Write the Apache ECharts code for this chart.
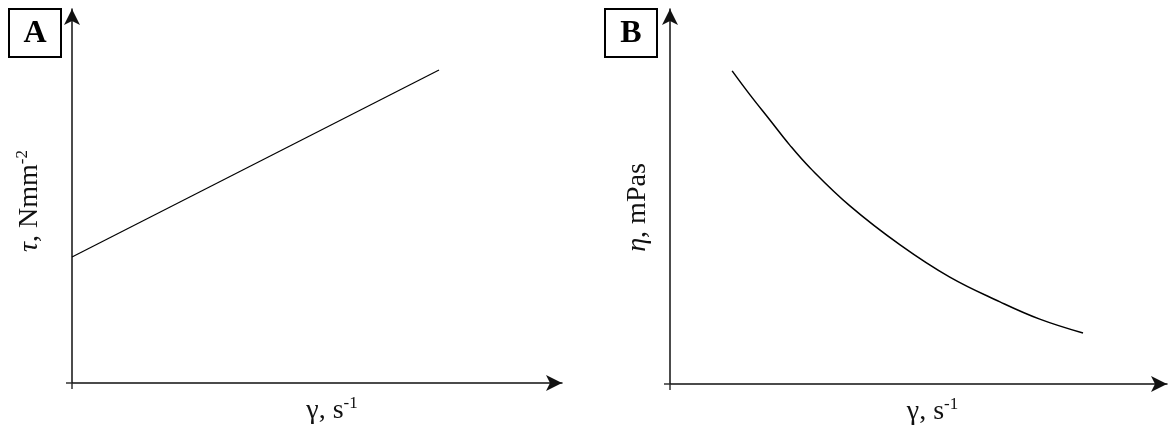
<!DOCTYPE html>
<html>
<head>
<meta charset="utf-8">
<script src="https://cdn.jsdelivr.net/npm/echarts@6/dist/echarts.min.js"></script>
<style>
  html, body { margin: 0; padding: 0; background: #fff; }
  #chart { width: 1168px; height: 434px; }
</style>
</head>
<body>
<div id="chart"></div>
<script>
// Panel A: shear stress vs shear rate (straight line, Bingham-like)
const shearRateA = [0, 74.9]
const stressA = [33.7, 83.7]

// Panel B: viscosity vs shear rate (decaying curve)
const shearRateB = [12.5, 16.1, 20.1, 24.1, 28.2, 36.2, 46.3, 56.3, 66.4, 74.4, 83.1]
const viscosityB = [83.5, 77.1, 70.4, 63.7, 57.6, 47.5, 37.1, 28.5, 21.9, 17.3, 13.6]

const SERIF = '"Liberation Serif", "DejaVu Serif", serif'
const INK = '#111'

const richName = {
  n: { fontFamily: SERIF, fontSize: 28, color: INK, lineHeight: 32 },
  i: { fontFamily: SERIF, fontSize: 28, color: INK, fontStyle: 'italic', lineHeight: 32 },
  sup: { fontFamily: SERIF, fontSize: 17, color: INK, verticalAlign: 'top', lineHeight: 32 },
}

function axisBase(extra) {
  return Object.assign({
    type: 'value',
    min: 0,
    max: 100,
    axisLine: {
      show: true,
      lineStyle: { color: INK, width: 1.5 },
      symbol: ['none', 'arrow'],
      symbolSize: [12, 16],
    },
    axisTick: { show: true, customValues: [0], length: 6, lineStyle: { color: '#333', width: 1.5 } },
    axisLabel: { show: false },
    splitLine: { show: false },
  }, extra)
}

function panelBox(x, label) {
  return [
    {
      type: 'rect',
      shape: { x: x, y: 9, width: 52, height: 48 },
      style: { fill: '#fff', stroke: '#000', lineWidth: 2 },
    },
    {
      type: 'text',
      x: x + 26,
      y: 34,
      style: {
        text: label,
        font: 'bold 32px ' + SERIF,
        fill: '#000',
        align: 'center',
        verticalAlign: 'middle',
      },
    },
  ]
}

const chart = echarts.init(document.getElementById('chart'))

chart.setOption({
  animation: false,
  backgroundColor: '#fff',
  grid: [
    { left: 72, top: 9, right: 1168 - 562, bottom: 434 - 383 },
    { left: 670, top: 9, right: 1, bottom: 434 - 384 },
  ],
  xAxis: [
    axisBase({
      gridIndex: 0,
      name: '{n|γ, s}{sup|-1}',
      nameLocation: 'middle',
      nameGap: 12,
      nameTextStyle: { rich: richName, padding: [0, 0, 0, 30] },
    }),
    axisBase({
      gridIndex: 1,
      name: '{n|γ, s}{sup|-1}',
      nameLocation: 'middle',
      nameGap: 12,
      nameTextStyle: { rich: richName, padding: [0, 0, 0, 28] },
    }),
  ],
  yAxis: [
    axisBase({
      gridIndex: 0,
      name: '{i|τ}{n|, Nmm}{sup|-2}',
      nameLocation: 'middle',
      nameGap: 26,
      nameTextStyle: { rich: richName, padding: [0, 10, 0, 0] },
    }),
    axisBase({
      gridIndex: 1,
      name: '{i|η}{n|, mPas}',
      nameLocation: 'middle',
      nameGap: 16,
      nameTextStyle: { rich: richName, padding: [0, 22, 0, 0] },
    }),
  ],
  graphic: panelBox(9, 'A').concat(panelBox(605, 'B')),
  series: [
    {
      type: 'line',
      xAxisIndex: 0,
      yAxisIndex: 0,
      data: shearRateA.map((x, i) => [x, stressA[i]]),
      showSymbol: false,
      lineStyle: { color: '#000', width: 1.2 },
    },
    {
      type: 'line',
      xAxisIndex: 1,
      yAxisIndex: 1,
      data: shearRateB.map((x, i) => [x, viscosityB[i]]),
      smooth: 0.4,
      showSymbol: false,
      lineStyle: { color: '#000', width: 1.5 },
    },
  ],
})
</script>
</body>
</html>
